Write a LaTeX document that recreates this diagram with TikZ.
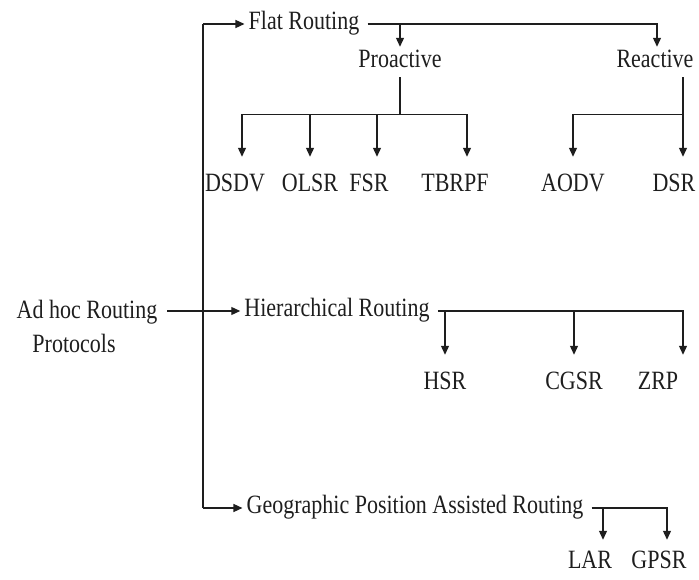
\documentclass[tikz,border=0pt]{standalone}
\usepackage{fontspec}
\setmainfont{Liberation Serif}
\usepackage{tikz}
\usetikzlibrary{arrows.meta, positioning, calc}
\definecolor{myink}{RGB}{30,30,30}
\tikzset{
  lbl/.style={inner xsep=4pt, inner ysep=3pt, text height=14pt, text depth=5pt,
    font=\fontsize{22}{26}\selectfont, text=myink, yscale=1.2},
  arrow/.style={-{Triangle[length=9pt, width=8pt]}, line width=1.3pt, color=myink},
  leafarrow/.style={arrow, shorten >=14pt},
  line/.style={line width=1.3pt, color=myink}
}

\begin{document}
\begin{tikzpicture}[x=1pt, y=-1pt]
  \useasboundingbox (0,0) rectangle (699,580);

  \node[lbl] (adhoc) at (87,313) {Ad hoc Routing};
  \node[lbl] (proto) at (74,347) {Protocols};

  \node[lbl] (flat) at (304,24) {Flat Routing};
  \node[lbl] (hier) at (337,311) {Hierarchical Routing};
  \node[lbl] (geo) at (415,508) {Geographic Position Assisted Routing};

  \node[lbl] (pro) at (400,62) {Proactive};
  \node[lbl] (rea) at (655,62) {Reactive};

  \node[lbl] (dsdv) at (235,186) {DSDV};
  \node[lbl] (olsr) at (310,186) {OLSR};
  \node[lbl] (fsr) at (369,186) {FSR};
  \node[lbl] (tbrpf) at (455,186) {TBRPF};
  \node[lbl] (aodv) at (573,186) {AODV};
  \node[lbl] (dsr) at (674,186) {DSR};

  \node[lbl] (hsr) at (445,384) {HSR};
  \node[lbl] (cgsr) at (574,384) {CGSR};
  \node[lbl] (zrp) at (658,384) {ZRP};

  \node[lbl] (lar) at (590,563) {LAR};
  \node[lbl] (gpsr) at (659,563) {GPSR};

  % trunk
  \coordinate (trunk) at (203,0);
  \draw[arrow, shorten <=6pt] (hier -| adhoc.east) -- (hier.west);
  \draw[line] (trunk |- flat) -- (trunk |- geo);
  \draw[arrow] (trunk |- flat) -- (flat.west);
  \draw[arrow] (trunk |- geo) -- (geo.west);

  % flat routing
  \draw[arrow, shorten <=4pt] (flat.east) -| ([xshift=2pt]rea.north);
  \draw[arrow] (flat.east -| pro.north) -- (pro.north);

  \draw[line] (pro.south) -- ++(0,37) coordinate (pbar);
  \coordinate (dsdvin) at ([xshift=7pt]dsdv.north);
  \coordinate (fsrin) at ([xshift=8pt]fsr.north);
  \coordinate (tbrpfin) at ([xshift=12pt]tbrpf.north);
  \draw[leafarrow] (pbar) -| (dsdvin);
  \draw[leafarrow] (pbar) -| (tbrpfin);
  \draw[leafarrow] (pbar -| olsr.north) -- (olsr.north);
  \draw[leafarrow] (pbar -| fsrin) -- (fsrin);

  \draw[line] ([xshift=28pt]rea.south) -- ++(0,37) coordinate (rbar);
  \draw[leafarrow] (rbar) -| (aodv.north);
  \draw[leafarrow] (rbar) -- (rbar |- dsr.north);

  % hierarchical routing
  \coordinate (zrpin) at ([xshift=25pt]zrp.north);
  \draw[leafarrow, shorten <=4pt] (hier.east) -| (zrpin);
  \draw[leafarrow] (hier.east -| hsr.north) -- (hsr.north);
  \draw[leafarrow] (hier.east -| cgsr.north) -- (cgsr.north);

  % geographic routing
  \coordinate (larin) at ([xshift=13pt]lar.north);
  \coordinate (gpsrin) at ([xshift=8pt]gpsr.north);
  \draw[leafarrow, shorten <=4pt, shorten >=8pt] (geo.east) -| (gpsrin);
  \draw[leafarrow, shorten >=8pt] (geo.east -| larin) -- (larin);
\end{tikzpicture}
\end{document}
